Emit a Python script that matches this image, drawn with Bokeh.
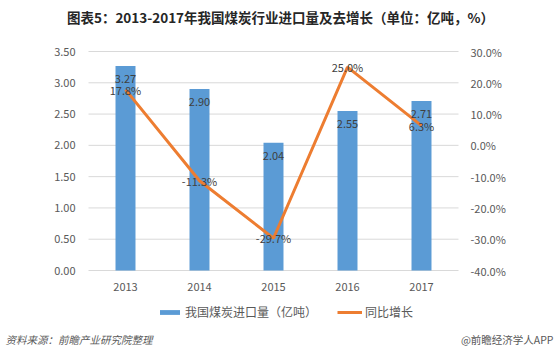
from bokeh.plotting import figure
from bokeh.models import Range1d, Label, Legend, LegendItem, ColumnDataSource
from bokeh.core.properties import value
from bokeh.embed import file_html
from bokeh.resources import INLINE

years = ["2013", "2014", "2015", "2016", "2017"]
imports = [3.27, 2.90, 2.04, 2.55, 2.71]
growth = [17.8, -11.3, -29.7, 25.0, 6.3]
import_labels = ["3.27", "2.90", "2.04", "2.55", "2.71"]
growth_labels = ["17.8%", "-11.3%", "-29.7%", "25.0%", "6.3%"]
left_ticks = [0, 0.5, 1.0, 1.5, 2.0, 2.5, 3.0, 3.5]
left_tick_labels = ["0.00", "0.50", "1.00", "1.50", "2.00", "2.50", "3.00", "3.50"]
right_ticks = [-40, -30, -20, -10, 0, 10, 20, 30]
right_tick_labels = ["-40.0%", "-30.0%", "-20.0%", "-10.0%", "0.0%", "10.0%", "20.0%", "30.0%"]

title_text = "图表5：2013-2017年我国煤炭行业进口量及去增长（单位：亿吨，%）"
source_text = "资料来源：前瞻产业研究院整理"
brand_text = "@前瞻经济学人APP"
bar_name = "我国煤炭进口量（亿吨）"
line_name = "同比增长"

FONT = "Noto Sans CJK SC"
TXT = "#595959"
W, H = 560, 355
# layout of the plotting area in page pixels
PL, PR, PT, PB = 88, 458, 51, 270

xs = [int(y) for y in years]
band = (PR - PL) / len(years)
x0 = xs[0] - 0.5
x_lo = x0 - PL / band
x_hi = x_lo + W / band

def y_bounds(lo, hi):
    per_px = (hi - lo) / (PB - PT)
    return lo - (H - PB) * per_px, hi + PT * per_px

src = ColumnDataSource(dict(x=xs, yr=years, v=imports, g=growth, vl=import_labels, gl=growth_labels,
                            z=[0] * len(years)))
lt = ColumnDataSource(dict(y=left_ticks, t=left_tick_labels,
                           a=[x0] * len(left_ticks), b=[x0 + len(years)] * len(left_ticks)))
rt = ColumnDataSource(dict(y=right_ticks, t=right_tick_labels, b=[x0 + len(years)] * len(right_ticks)))

p = figure(width=W, height=H, x_range=Range1d(x_lo, x_hi),
           y_range=Range1d(*y_bounds(left_ticks[0], left_ticks[-1])),
           output_backend="svg", toolbar_location=None,
           min_border_left=0, min_border_right=0, min_border_top=0, min_border_bottom=0)
p.extra_y_ranges = {"pct": Range1d(*y_bounds(right_ticks[0], right_ticks[-1]))}
p.axis.visible = False
p.grid.visible = False
p.outline_line_color = None
p.background_fill_color = "white"
p.border_fill_color = "white"

# gridlines
p.segment(x0="a", x1="b", y0="y", y1="y", source=lt, line_color="#d9d9d9", line_width=1)
# tick labels
p.text(x="a", y="y", text="t", source=lt, x_offset=-13, text_align="right", text_baseline="middle",
       text_font=value(FONT), text_font_size="11px", text_color=TXT)
p.text(x="b", y="y", text="t", source=rt, y_range_name="pct", x_offset=12, text_align="left",
       text_baseline="middle", text_font=value(FONT), text_font_size="11px", text_color=TXT)
p.text(x="x", y="z", text="yr", source=src, y_offset=16, text_align="center", text_baseline="middle",
       text_font=value(FONT), text_font_size="11px", text_color=TXT)

bars = p.vbar(x="x", top="v", bottom=0, width=0.27, source=src, fill_color="#5B9BD5", line_color=None)
line = p.line(x="x", y="g", source=src, y_range_name="pct", line_color="#ED7D31", line_width=3)

p.text(x="x", y="v", text="vl", source=src, y_offset=13, text_align="center", text_baseline="middle",
       text_font=value(FONT), text_font_size="11px", text_color="#404040")
p.text(x="x", y="g", text="gl", source=src, y_range_name="pct", text_align="center",
       text_baseline="middle", text_font=value(FONT), text_font_size="11px", text_color="#404040")

legend = Legend(items=[LegendItem(label=bar_name, renderers=[bars]),
                       LegendItem(label=line_name, renderers=[line])],
                orientation="horizontal", location=(157, H - 320),
                label_text_font=FONT, label_text_font_size="12px", label_text_color=TXT,
                glyph_width=25, glyph_height=6, spacing=20, background_fill_alpha=0,
                border_line_color=None, padding=0, margin=0, label_standoff=3)
p.add_layout(legend, "center")

p.add_layout(Label(x=280, y=H - 16, x_units="screen", y_units="screen", text=title_text,
                   text_align="center", text_baseline="middle", text_font=FONT,
                   text_font_size="13.5px", text_font_style="bold", text_color="#262626"))
p.add_layout(Label(x=5, y=H - 339, x_units="screen", y_units="screen", text=source_text,
                   text_align="left", text_baseline="middle", text_font=FONT,
                   text_font_size="10.5px", text_font_style="italic", text_color=TXT))
p.add_layout(Label(x=553, y=H - 339, x_units="screen", y_units="screen", text=brand_text,
                   text_align="right", text_baseline="middle", text_font=FONT,
                   text_font_size="10.5px", text_color=TXT))

open("out.html", "w").write(file_html(p, INLINE))
